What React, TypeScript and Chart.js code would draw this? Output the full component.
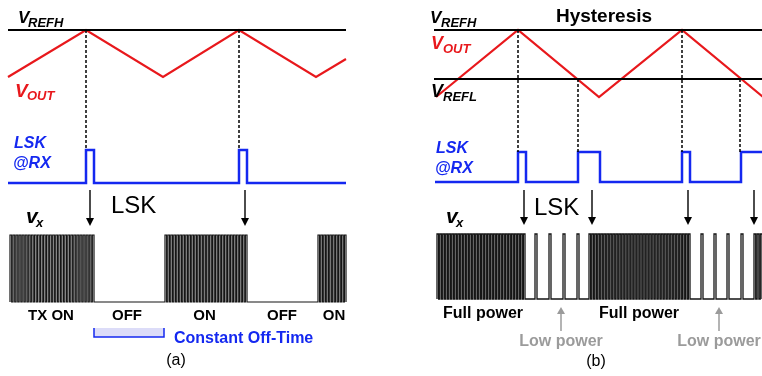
import React, { useEffect, useRef } from 'react';
import { Chart, registerables } from 'chart.js';

Chart.register(...registerables);

const W = 762;
const H = 376;
const FONT = '"Liberation Sans", Arial, sans-serif';

// ---------- Panel (a) ----------
const A_REF_SPAN = [8, 346];
const A_VREFH = 30;
const A_VOUT_T = [8, 86, 163, 239, 316, 346];
const A_VOUT_V = [77, 30, 77, 30, 77, 59];
const A_LSK_SPAN = [8, 346];
const A_LSK_PULSES = [[86, 94], [239, 247]];
const A_LSK_LOW = 183;
const A_LSK_HIGH = 150;
const A_SYNC_T = [86, 239];
const A_SYNC_FROM = [30, 30];
const A_VX_SPAN = [10, 346];
const A_VX_BURSTS = [[10, 94, 28], [165, 247, 28], [318, 346, 10]];
const A_VX_LOW = 302;
const A_VX_HIGH = 235;
const A_ARROWS_T = [90, 245];
const A_STATE_LABELS = ['TX ON', 'OFF', 'ON', 'OFF', 'ON'];
const A_STATE_T = [51, 127, 204.5, 282, 334];
const A_OFFTIME = [94, 164];

// ---------- Panel (b) ----------
const B_REF_SPAN = [434, 762];
const B_VREFH = 30;
const B_VREFL = 79;
const B_VOUT_T = [436, 518, 599, 682, 763];
const B_VOUT_V = [97, 30, 97, 30, 97];
const B_LSK_SPAN = [435, 762];
const B_LSK_PULSES = [[518, 526], [578, 600], [682, 690], [741, 790]];
const B_LSK_LOW = 182;
const B_LSK_HIGH = 152;
const B_SYNC_T = [518, 578, 682, 740];
const B_SYNC_FROM = [30, 79, 30, 79];
const B_VX_SPAN = [437, 762];
const B_VX_BURSTS = [[437, 525, 30], [589, 690, 34], [754, 762, 3]];
const B_VX_LOWPOWER = [535, 549, 563, 577, 701, 714, 727, 741];
const B_VX_LOW = 299;
const B_VX_HIGH = 234;
const B_ARROWS_T = [524, 592, 688, 754];
const B_FULL_T = [483, 639];
const B_LOWP_T = [561, 719];

const RED = '#e8181c';
const BLUE = '#1428f0';
const GRAY = '#9b9b9b';

type P = [number, number];

function ds(points: P[], color: string, width: number, dash: number[] = []) {
  return {
    data: points.map(([x, y]) => ({ x, y })),
    showLine: true,
    borderColor: color,
    backgroundColor: color,
    borderWidth: width,
    borderDash: dash,
    pointRadius: 0,
    pointHoverRadius: 0,
    fill: false,
    tension: 0,
    borderJoinStyle: 'miter' as const,
  };
}

function pulseLine(span: number[], pulses: number[][], low: number, high: number): P[] {
  const pts: P[] = [[span[0], low]];
  for (const [s, e] of pulses) {
    pts.push([s, low], [s, high], [e, high], [e, low]);
  }
  pts.push([span[1], low]);
  return pts;
}

function burstPulses(bursts: number[][], extra: number[] = [], extraW = 2): number[][] {
  const out: number[][] = [];
  for (const [x0, x1, n] of bursts) {
    const p = (x1 - x0) / (n - 0.45);
    const w = p * 0.55;
    for (let i = 0; i < n; i++) {
      const s = x0 + i * p;
      out.push([s, s + w]);
    }
  }
  for (const s of extra) out.push([s, s + extraW]);
  out.sort((a, b) => a[0] - b[0]);
  return out;
}

const textPlugin = {
  id: 'diagramText',
  beforeDatasetsDraw(chart: any) {
    const { ctx, scales } = chart;
    const X = (v: number) => scales.x.getPixelForValue(v);
    const Y = (v: number) => scales.y.getPixelForValue(v);
    ctx.save();
    ctx.fillStyle = '#dcdcf8';
    ctx.fillRect(X(A_OFFTIME[0]), Y(328), X(A_OFFTIME[1]) - X(A_OFFTIME[0]), Y(337) - Y(328));
    ctx.strokeStyle = BLUE;
    ctx.lineWidth = 1.5;
    ctx.beginPath();
    ctx.moveTo(X(A_OFFTIME[0]), Y(328));
    ctx.lineTo(X(A_OFFTIME[0]), Y(337));
    ctx.lineTo(X(A_OFFTIME[1]), Y(337));
    ctx.lineTo(X(A_OFFTIME[1]), Y(328));
    ctx.stroke();
    ctx.restore();
  },
  afterDatasetsDraw(chart: any) {
    const { ctx, scales } = chart;
    const X = (v: number) => scales.x.getPixelForValue(v);
    const Y = (v: number) => scales.y.getPixelForValue(v);
    ctx.save();

    const txt = (s: string, x: number, y: number, font: string, color: string, align: CanvasTextAlign = 'left') => {
      ctx.font = font;
      ctx.fillStyle = color;
      ctx.textAlign = align;
      ctx.textBaseline = 'alphabetic';
      ctx.fillText(s, X(x), Y(y));
    };
    const bi = (size: number) => `italic bold ${size}px ${FONT}`;
    const b = (size: number) => `bold ${size}px ${FONT}`;
    const n = (size: number) => `${size}px ${FONT}`;

    const arrow = (x: number, y0: number, tip: number, color: string, lw: number, hl: number, hw: number) => {
      const dir = tip > y0 ? 1 : -1;
      ctx.strokeStyle = color;
      ctx.fillStyle = color;
      ctx.lineWidth = lw;
      ctx.beginPath();
      ctx.moveTo(X(x), Y(y0));
      ctx.lineTo(X(x), Y(tip - dir * hl * 0.8));
      ctx.stroke();
      ctx.beginPath();
      ctx.moveTo(X(x), Y(tip));
      ctx.lineTo(X(x) - hw, Y(tip - dir * hl));
      ctx.lineTo(X(x) + hw, Y(tip - dir * hl));
      ctx.closePath();
      ctx.fill();
    };

    // ---- panel (a) ----
    txt('V', 18, 23, bi(17), '#000');
    txt('REFH', 28, 27, bi(13), '#000');
    txt('V', 15, 97, bi(19), RED);
    txt('OUT', 27, 100, bi(13), RED);
    txt('LSK', 14, 148, bi(16), BLUE);
    txt('@RX', 13, 168, bi(16), BLUE);
    txt('v', 26, 223, bi(21), '#000');
    txt('x', 36, 227, bi(13), '#000');
    txt('LSK', 111, 213, n(24), '#000');
    A_STATE_LABELS.forEach((s, i) => txt(s, A_STATE_T[i], 320, b(15), '#000', 'center'));
    txt('Constant Off-Time', 174, 343, b(16), BLUE);
    txt('(a)', 176, 365, n(16), '#000', 'center');
    A_ARROWS_T.forEach((t) => arrow(t, 190, 226, '#000', 1.4, 8, 4));

    // ---- panel (b) ----
    txt('V', 430, 23, bi(17), '#000');
    txt('REFH', 441, 27, bi(13), '#000');
    txt('Hysteresis', 604, 22, b(19), '#000', 'center');
    txt('V', 431, 49, bi(18), RED);
    txt('OUT', 443, 53, bi(13), RED);
    txt('V', 431, 97, bi(18), '#000');
    txt('REFL', 443, 101, bi(13), '#000');
    txt('LSK', 436, 153, bi(16), BLUE);
    txt('@RX', 435, 173, bi(16), BLUE);
    txt('v', 446, 223, bi(21), '#000');
    txt('x', 456, 227, bi(13), '#000');
    txt('LSK', 534, 215, n(24), '#000');
    B_FULL_T.forEach((t) => txt('Full power', t, 318, b(16), '#000', 'center'));
    B_LOWP_T.forEach((t) => {
      txt('Low power', t, 346, b(16), GRAY, 'center');
      arrow(t, 331, 307, GRAY, 1.5, 7, 4);
    });
    txt('(b)', 596, 366, n(16), '#000', 'center');
    B_ARROWS_T.forEach((t) => arrow(t, 190, 225, '#000', 1.4, 8, 4));

    ctx.restore();
  },
};

export default function App() {
  const ref = useRef<HTMLCanvasElement | null>(null);

  useEffect(() => {
    document.body.style.margin = '0';
    const canvas = ref.current;
    if (!canvas) return;

    const datasets: any[] = [];
    datasets.push(ds([[A_REF_SPAN[0], A_VREFH], [A_REF_SPAN[1], A_VREFH]], '#000', 2));
    datasets.push(ds([[B_REF_SPAN[0], B_VREFH], [B_REF_SPAN[1], B_VREFH]], '#000', 2));
    datasets.push(ds([[B_REF_SPAN[0], B_VREFL], [B_REF_SPAN[1], B_VREFL]], '#000', 2));
    A_SYNC_T.forEach((t, i) => datasets.push(ds([[t, A_SYNC_FROM[i]], [t, A_LSK_HIGH]], '#000', 1.5, [3, 2])));
    B_SYNC_T.forEach((t, i) => datasets.push(ds([[t, B_SYNC_FROM[i]], [t, B_LSK_HIGH]], '#000', 1.5, [3, 2])));
    datasets.push(ds(A_VOUT_T.map((t, i) => [t, A_VOUT_V[i]] as P), RED, 2.2));
    datasets.push(ds(B_VOUT_T.map((t, i) => [t, B_VOUT_V[i]] as P), RED, 2.2));
    datasets.push(ds(pulseLine(A_LSK_SPAN, A_LSK_PULSES, A_LSK_LOW, A_LSK_HIGH), BLUE, 2.5));
    datasets.push(ds(pulseLine(B_LSK_SPAN, B_LSK_PULSES, B_LSK_LOW, B_LSK_HIGH), BLUE, 2.5));
    datasets.push(ds(pulseLine(A_VX_SPAN, burstPulses(A_VX_BURSTS), A_VX_LOW, A_VX_HIGH), '#151515', 1.2));
    datasets.push(ds(pulseLine(B_VX_SPAN, burstPulses(B_VX_BURSTS, B_VX_LOWPOWER, 2), B_VX_LOW, B_VX_HIGH), '#151515', 1.3));

    const chart = new Chart(canvas, {
      type: 'scatter',
      data: { datasets },
      options: {
        responsive: false,
        animation: false,
        events: [],
        layout: { padding: 0 },
        plugins: { legend: { display: false }, tooltip: { enabled: false } },
        scales: {
          x: { type: 'linear', min: 0, max: W, display: false },
          y: { type: 'linear', min: 0, max: H, reverse: true, display: false },
        },
      },
      plugins: [textPlugin],
    });
    return () => chart.destroy();
  }, []);

  return (
    <div style={{ position: 'fixed', left: 0, top: 0, width: W, height: H, background: '#fff' }}>
      <canvas ref={ref} width={W} height={H} style={{ display: 'block', width: W, height: H }} />
    </div>
  );
}
